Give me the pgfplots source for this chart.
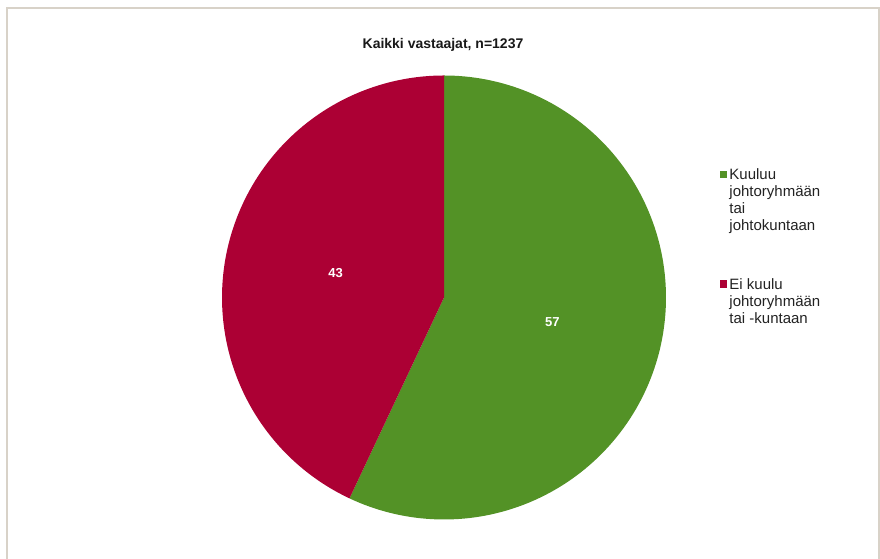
\documentclass[border=0pt]{standalone}
\usepackage{fontspec}
\setmainfont{Liberation Sans}
\usepackage{pgfplots}
\pgfplotsset{compat=1.18}
\definecolor{pieGreen}{RGB}{83,146,38}
\definecolor{pieRed}{RGB}{172,0,52}
\definecolor{frameGray}{RGB}{216,210,200}
\definecolor{legText}{RGB}{34,34,34}
\begin{document}
\begin{tikzpicture}[x=1bp,y=1bp]
\path[use as bounding box] (0,0) rectangle (880,559);
\draw[frameGray, line width=2bp] (7,-2) -- (7,551) -- (879,551) -- (879,-2);
\node[font=\bfseries\fontsize{14bp}{16bp}\selectfont, text=black!90] at (443,514) {Kaikki vastaajat, n=1237};
\def\vA{57}\def\vB{43}
\pgfmathsetmacro\aStart{90}
\pgfmathsetmacro\aMid{90-3.6*\vA}
\pgfmathsetmacro\aEnd{\aMid-3.6*\vB}
\pgfmathsetmacro\lAx{0.5*cos((\aStart+\aMid)/2)}
\pgfmathsetmacro\lAy{0.5*sin((\aStart+\aMid)/2)}
\pgfmathsetmacro\lBx{0.5*cos((\aMid+\aEnd)/2)}
\pgfmathsetmacro\lBy{0.5*sin((\aMid+\aEnd)/2)}
\begin{axis}[at={(444bp,261.5bp)}, anchor=center, x=222bp, y=222bp,
  xmin=-1, xmax=1, ymin=-1, ymax=1, hide axis, clip=false,
  legend style={draw=none, fill=none, at={(axis description cs:1.121,0.797)}, anchor=north west,
    font=\fontsize{15bp}{17bp}\selectfont, text=legText,
    cells={anchor=base west}, row sep=92bp, inner sep=0pt},
  legend image code/.code={\fill[#1] (-0.5bp,1.5bp) rectangle (7bp,9bp);}]
\addplot[draw=none, fill=pieGreen, domain=\aMid:\aStart, samples=150, variable=\t]
  ({cos(\t)},{sin(\t)}) -- (axis cs:0,0) -- cycle;
\addlegendentry{\begin{tabular}[t]{@{}l@{}}Kuuluu\\johtoryhmään\\tai\\johtokuntaan\end{tabular}}
\addplot[draw=none, fill=pieRed, domain=\aEnd:\aMid, samples=150, variable=\t]
  ({cos(\t)},{sin(\t)}) -- (axis cs:0,0) -- cycle;
\addlegendentry{\begin{tabular}[t]{@{}l@{}}Ei kuulu\\johtoryhmään\\tai -kuntaan\end{tabular}}
\node[text=white, font=\bfseries\fontsize{13bp}{15bp}\selectfont] at (axis cs:\lAx,\lAy) {\vA};
\node[text=white, font=\bfseries\fontsize{13bp}{15bp}\selectfont] at (axis cs:\lBx,\lBy) {\vB};
\end{axis}
\end{tikzpicture}
\end{document}
